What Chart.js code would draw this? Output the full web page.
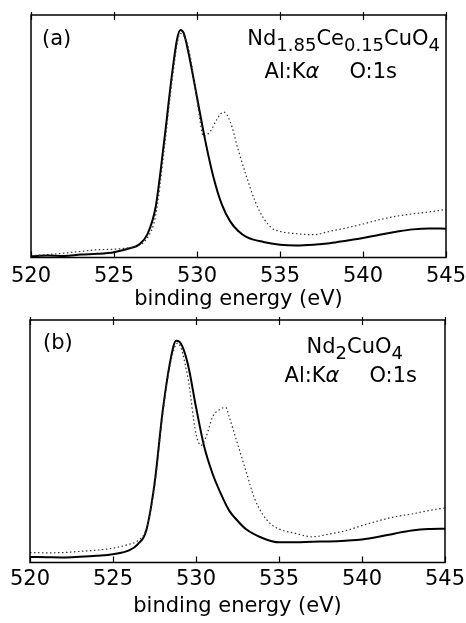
<!DOCTYPE html>
<html>
<head>
<meta charset="utf-8">
<script src="https://cdn.jsdelivr.net/npm/chart.js@4.4.1/dist/chart.umd.min.js"></script>
<style>
  html, body { margin: 0; padding: 0; background: #fff; }
  #wrap { position: relative; width: 466px; height: 623px; overflow: hidden; }
  canvas { position: absolute; left: 0; }
  #cA { top: 0; }
  #cB { top: 305px; }
</style>
</head>
<body>
<div id="wrap">
  <canvas id="cA" width="466" height="312"></canvas>
  <canvas id="cB" width="466" height="318"></canvas>
</div>
<script>
// Panel (a) Nd1.85Ce0.15CuO4, O 1s, intensity as fraction of frame height
const energyA_solid = [520,521,522,523,524,525,526,526.5,527,527.5,528,528.5,528.8,529,529.2,529.5,530,530.5,531,531.5,532,532.5,533,534,535,536,537,538,539,540,541,542,543,544,545];
const solidA = [0.005,0.008,0.006,0.012,0.015,0.022,0.039,0.053,0.094,0.205,0.467,0.758,0.90,0.938,0.925,0.84,0.661,0.481,0.329,0.218,0.149,0.108,0.084,0.064,0.053,0.050,0.053,0.059,0.069,0.080,0.094,0.106,0.116,0.120,0.119];
const energyA_dotted = [520,521,522,523,524,525,526,526.5,527,527.5,528,528.5,529,529.5,530,530.4,530.8,531.2,531.6,532,532.5,533,533.5,534,534.5,535,536,537,538,539,540,541,542,543,544,545];
const dottedA = [0.008,0.012,0.018,0.025,0.032,0.034,0.041,0.05,0.08,0.17,0.43,0.73,0.924,0.86,0.65,0.50,0.52,0.57,0.60,0.56,0.44,0.33,0.232,0.163,0.122,0.108,0.098,0.094,0.108,0.122,0.138,0.156,0.170,0.180,0.188,0.198];

// Panel (b) Nd2CuO4
const energyB_solid = [520,521,522,523,524,525,526,526.5,527,527.5,528,528.5,528.8,529,529.5,530,530.5,531,531.5,532,532.5,533,534,535,536,537,538,539,540,541,542,543,544,545];
const solidB = [0.023,0.022,0.021,0.024,0.028,0.034,0.051,0.076,0.131,0.324,0.628,0.848,0.914,0.91,0.821,0.641,0.476,0.366,0.283,0.214,0.172,0.138,0.101,0.083,0.083,0.086,0.087,0.090,0.095,0.106,0.12,0.132,0.138,0.139];
const energyB_dotted = [520,521,522,523,524,525,526,526.5,527,527.5,528,528.5,528.9,529.5,530,530.3,530.6,531,531.5,531.8,532,532.5,533,533.5,534,534.5,535,536,537,538,539,540,541,542,543,544,545];
const dottedB = [0.041,0.04,0.041,0.046,0.051,0.059,0.076,0.09,0.138,0.31,0.614,0.834,0.905,0.766,0.531,0.483,0.517,0.6,0.634,0.639,0.6,0.49,0.379,0.269,0.2,0.159,0.138,0.12,0.106,0.117,0.131,0.152,0.172,0.189,0.2,0.214,0.225];

const xTicks = [520, 525, 530, 535, 540, 545];
const xTitle = 'binding energy (eV)';

const FONT = "'DejaVu Sans', sans-serif";

function pts(xs, ys) {
  return xs.map((x, i) => ({ x: x, y: ys[i] }));
}

// frame, inward ticks and the text inside the box
function panelPlugin(info) {
  return {
    id: 'panel',
    afterDraw(chart) {
      const { ctx, chartArea: a, scales: { x } } = chart;
      ctx.save();
      ctx.strokeStyle = '#000';
      ctx.lineWidth = 1.5;
      ctx.strokeRect(a.left, a.top, a.width, a.height);
      ctx.lineWidth = 1.2;
      xTicks.forEach(v => {
        const px = Math.round(x.getPixelForValue(v)) + 0.5;
        ctx.beginPath();
        ctx.moveTo(px, a.top - 3);
        ctx.lineTo(px, a.top + 5);
        ctx.moveTo(px, a.bottom);
        ctx.lineTo(px, a.bottom - 6);
        ctx.stroke();
      });

      ctx.fillStyle = '#000';
      ctx.textBaseline = 'alphabetic';

      // panel letter
      ctx.font = '21px ' + FONT;
      ctx.textAlign = 'left';
      ctx.fillText(info.letter, a.left + info.letterDx, a.top + info.letterDy);

      // formula with subscripts, right aligned
      const mainF = '21px ' + FONT, subF = '18px ' + FONT;
      let w = 0;
      info.formula.forEach(([t, sub]) => { ctx.font = sub ? subF : mainF; w += ctx.measureText(t).width; });
      let cx = a.right - info.formulaDx - w;
      info.formula.forEach(([t, sub]) => {
        ctx.font = sub ? subF : mainF;
        ctx.fillText(t, cx, a.top + info.formulaDy + (sub ? 6 : 0));
        cx += ctx.measureText(t).width;
      });

      // source / level line
      const sx = a.right - info.srcDx;
      const p1 = 'Al:K', p2 = 'O:1s';
      ctx.font = 'italic 21px ' + FONT;
      const wa = ctx.measureText('\u03b1').width;
      ctx.font = '21px ' + FONT;
      const w1 = ctx.measureText(p1).width, w2 = ctx.measureText(p2).width;
      const startX = sx - (w1 + wa + 30 + w2);
      const yy = a.top + info.srcDy;
      ctx.fillText(p1, startX, yy);
      ctx.font = 'italic 21px ' + FONT;
      ctx.fillText('\u03b1', startX + w1, yy);
      ctx.font = '21px ' + FONT;
      ctx.fillText(p2, startX + w1 + wa + 30, yy);
      ctx.restore();
    }
  };
}

function makeChart(id, solidPts, dottedPts, pad, axisH, tickPad, titlePad, info) {
  new Chart(document.getElementById(id), {
    type: 'line',
    data: {
      datasets: [
        {
          data: dottedPts,
          borderColor: '#333',
          borderWidth: 1.2,
          borderDash: [1.5, 2.5],
          pointRadius: 0,
          cubicInterpolationMode: 'monotone',
          fill: false
        },
        {
          data: solidPts,
          borderColor: '#000',
          borderWidth: 2,
          pointRadius: 0,
          cubicInterpolationMode: 'monotone',
          fill: false
        }
      ]
    },
    options: {
      responsive: false,
      animation: false,
      devicePixelRatio: 1,
      layout: { padding: pad },
      plugins: { legend: { display: false }, tooltip: { enabled: false } },
      scales: {
        x: {
          type: 'linear',
          min: 520,
          max: 545,
          afterFit: s => { s.height = axisH; s.paddingLeft = 0; s.paddingRight = 0; },
          afterBuildTicks: s => { s.ticks = xTicks.map(v => ({ value: v })); },
          grid: { display: false, drawTicks: false },
          border: { display: false },
          ticks: {
            padding: tickPad,
            color: '#000',
            maxRotation: 0,
            font: { family: FONT, size: 21 },
            callback: v => String(v)
          },
          title: {
            display: true,
            text: xTitle,
            color: '#000',
            font: { family: FONT, size: 21 },
            padding: { top: 0, bottom: titlePad }
          }
        },
        y: {
          display: false,
          min: 0,
          max: 1
        }
      }
    },
    plugins: [panelPlugin(info)]
  });
}

makeChart('cA', pts(energyA_solid, solidA), pts(energyA_dotted, dottedA),
  { top: 15, left: 31, right: 20, bottom: 0 }, 54.5, 6.5, 0,
  { letter: '(a)', letterDx: 11, letterDy: 30,
    formula: [['Nd', 0], ['1.85', 1], ['Ce', 0], ['0.15', 1], ['CuO', 0], ['4', 1]],
    formulaDx: 6, formulaDy: 30, srcDx: 49, srcDy: 63 });

makeChart('cB', pts(energyB_solid, solidB), pts(energyB_dotted, dottedB),
  { top: 15, left: 30, right: 21, bottom: 0 }, 60.5, 4.5, 4,
  { letter: '(b)', letterDx: 13, letterDy: 29,
    formula: [['Nd', 0], ['2', 1], ['CuO', 0], ['4', 1]],
    formulaDx: 42, formulaDy: 33, srcDx: 28, srcDy: 62 });
</script>
</body>
</html>
